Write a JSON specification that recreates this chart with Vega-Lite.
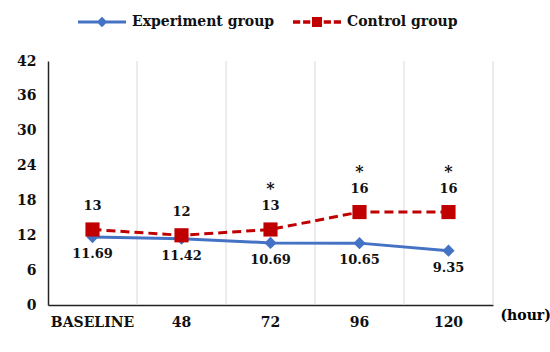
{
  "$schema": "https://vega.github.io/schema/vega-lite/v6.json",
  "width": 445,
  "height": 244,
  "autosize": "none",
  "padding": {"left": 48, "top": 61, "right": 57, "bottom": 47},
  "background": "white",
  "config": {
    "view": {"stroke": null},
    "font": "DejaVu Serif",
    "axis": {"labelFont": "DejaVu Serif", "labelFontWeight": "bold", "labelColor": "#111", "titleFont": "DejaVu Serif", "labelOverlap": false},
    "legend": {"labelFont": "DejaVu Serif"},
    "text": {"font": "DejaVu Serif"}
  },
  "data": {
    "values": [
      {"time": "BASELINE", "group": "Experiment group", "value": 11.69, "label": "11.69", "sig": ""},
      {"time": "48", "group": "Experiment group", "value": 11.42, "label": "11.42", "sig": ""},
      {"time": "72", "group": "Experiment group", "value": 10.69, "label": "10.69", "sig": ""},
      {"time": "96", "group": "Experiment group", "value": 10.65, "label": "10.65", "sig": ""},
      {"time": "120", "group": "Experiment group", "value": 9.35, "label": "9.35", "sig": ""},
      {"time": "BASELINE", "group": "Control group", "value": 13, "label": "13", "sig": ""},
      {"time": "48", "group": "Control group", "value": 12, "label": "12", "sig": ""},
      {"time": "72", "group": "Control group", "value": 13, "label": "13", "sig": "*"},
      {"time": "96", "group": "Control group", "value": 16, "label": "16", "sig": "*"},
      {"time": "120", "group": "Control group", "value": 16, "label": "16", "sig": "*"}
    ]
  },
  "encoding": {
    "x": {
      "field": "time",
      "type": "ordinal",
      "sort": ["BASELINE", "48", "72", "96", "120"],
      "scale": {"type": "band", "paddingInner": 0, "paddingOuter": 0},
      "axis": {
        "title": "(hour)",
        "titleFontSize": 14,
        "titleFontWeight": "bold",
        "titleAnchor": "start",
        "titleAlign": "left",
        "titleBaseline": "middle",
        "titleX": 452,
        "titleY": 10,
        "labelAngle": 0,
        "labelFontSize": 14,
        "labelPadding": 10,
        "ticks": false,
        "grid": false,
        "domainColor": "#222",
        "domainWidth": 1.5
      }
    },
    "y": {
      "field": "value",
      "type": "quantitative",
      "scale": {"domain": [0, 42], "nice": false},
      "axis": {
        "title": null,
        "values": [0, 6, 12, 18, 24, 30, 36, 42],
        "grid": false,
        "ticks": false,
        "labelFontSize": 14,
        "labelPadding": 12,
        "labelOverlap": false,
        "labelBound": false,
        "labelFlush": false,
        "domainColor": "#222",
        "domainWidth": 1.5
      }
    }
  },
  "layer": [
    {
      "mark": {"type": "rule", "color": "#d9d9d9", "strokeWidth": 1},
      "transform": [{"filter": "datum.group === 'Control group'"}],
      "encoding": {
        "x": {"field": "time", "type": "ordinal", "sort": ["BASELINE", "48", "72", "96", "120"], "bandPosition": 1},
        "y": {"value": 0},
        "y2": {"value": 244}
      }
    },
    {
      "mark": {"type": "line", "color": "#4472C4", "strokeWidth": 3},
      "transform": [{"filter": "datum.group === 'Experiment group'"}]
    },
    {
      "mark": {"type": "line", "color": "#C00000", "strokeWidth": 3, "strokeDash": [9, 5]},
      "transform": [{"filter": "datum.group === 'Control group'"}]
    },
    {
      "mark": {"type": "point", "shape": "diamond", "filled": true, "color": "#4472C4", "size": 150, "opacity": 1},
      "transform": [{"filter": "datum.group === 'Experiment group'"}]
    },
    {
      "mark": {"type": "point", "shape": "square", "filled": true, "color": "#C00000", "size": 200, "opacity": 1},
      "transform": [{"filter": "datum.group === 'Control group'"}]
    },
    {
      "mark": {"type": "text", "dy": 17, "fontSize": 13, "fontWeight": "bold", "color": "#111", "baseline": "middle", "font": "DejaVu Serif"},
      "transform": [{"filter": "datum.group === 'Experiment group'"}],
      "encoding": {"text": {"field": "label"}}
    },
    {
      "mark": {"type": "text", "dy": -23, "fontSize": 13, "fontWeight": "bold", "color": "#111", "baseline": "middle", "font": "DejaVu Serif"},
      "transform": [{"filter": "datum.group === 'Control group'"}],
      "encoding": {"text": {"field": "label"}}
    },
    {
      "mark": {"type": "text", "dy": -40, "fontSize": 16, "fontWeight": "bold", "color": "#111", "baseline": "middle", "font": "DejaVu Serif"},
      "transform": [{"filter": "datum.group === 'Control group'"}],
      "encoding": {"text": {"field": "sig"}}
    },
    {
      "mark": {"type": "point", "filled": true, "opacity": 0},
      "encoding": {
        "color": {
          "field": "group",
          "type": "nominal",
          "scale": {"domain": ["Experiment group", "Control group"], "range": ["#4472C4", "#C00000"]},
          "legend": {
            "title": null,
            "orient": "none",
            "legendX": 30,
            "legendY": -63,
            "direction": "horizontal",
            "labelFontSize": 14,
            "labelFontWeight": "bold",
            "labelColor": "#111",
            "labelLimit": 300,
            "symbolSize": 2304,
            "symbolStrokeWidth": 0,
            "symbolOpacity": 1,
            "columnPadding": 18,
            "labelOffset": 6
          }
        },
        "shape": {
          "field": "group",
          "type": "nominal",
          "scale": {
            "domain": ["Experiment group", "Control group"],
            "range": [
              "M-1,-0.065H1V0.065H-1Z M0,-0.22L0.22,0L0,0.22L-0.22,0Z",
              "M-1,-0.07H-0.7V0.07H-1Z M-0.58,-0.07H-0.28V0.07H-0.58Z M-0.21,-0.21H0.21V0.21H-0.21Z M0.28,-0.07H0.58V0.07H0.28Z M0.7,-0.07H1V0.07H0.7Z"
            ]
          },
          "legend": {
            "title": null,
            "orient": "none",
            "legendX": 30,
            "legendY": -63,
            "direction": "horizontal",
            "labelFontSize": 14,
            "labelFontWeight": "bold",
            "labelColor": "#111",
            "labelLimit": 300,
            "symbolSize": 2304,
            "symbolStrokeWidth": 0,
            "symbolOpacity": 1,
            "columnPadding": 18,
            "labelOffset": 6
          }
        }
      }
    }
  ]
}
